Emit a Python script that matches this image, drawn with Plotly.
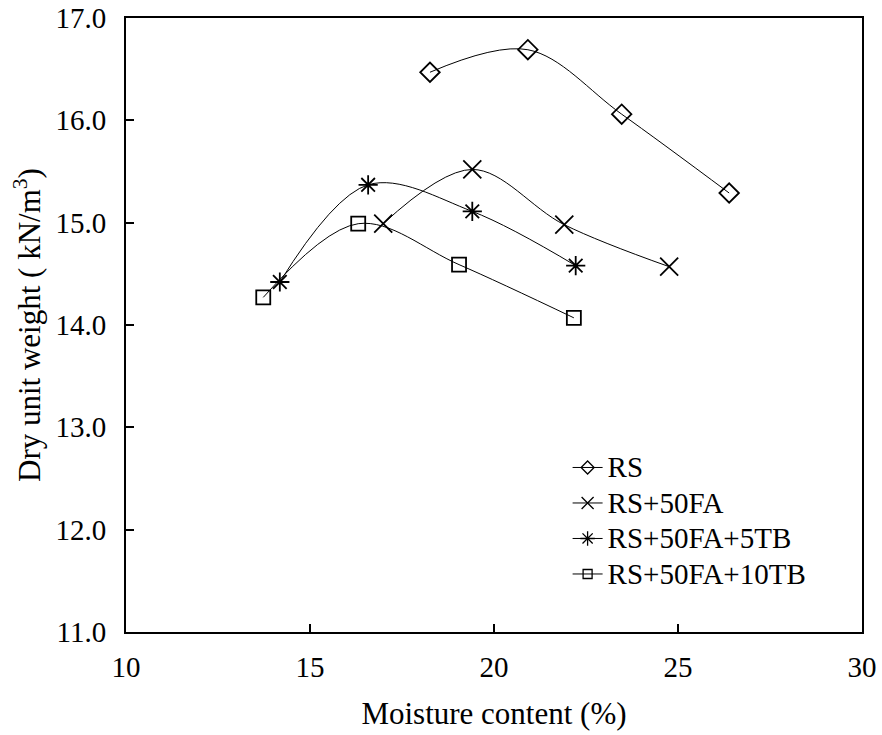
import plotly.graph_objects as go

# Compaction curves: moisture content (%) vs dry unit weight (kN/m3)
series_names = ["RS", "RS+50FA", "RS+50FA+5TB", "RS+50FA+10TB"]

moisture_rs = [18.26, 20.92, 23.47, 26.39]
weight_rs = [16.47, 16.69, 16.06, 15.29]

moisture_fa = [16.99, 19.41, 21.91, 24.76]
weight_fa = [14.99, 15.52, 14.98, 14.57]

moisture_5tb = [14.18, 16.58, 19.41, 22.22]
weight_5tb = [14.42, 15.37, 15.11, 14.58]

moisture_10tb = [13.73, 16.31, 19.05, 22.17]
weight_10tb = [14.27, 14.99, 14.59, 14.07]

x_ticks = [10, 15, 20, 25, 30]
y_ticks = [11.0, 12.0, 13.0, 14.0, 15.0, 16.0, 17.0]

xs = [moisture_rs, moisture_fa, moisture_5tb, moisture_10tb]
ys = [weight_rs, weight_fa, weight_5tb, weight_10tb]
symbols = ["diamond-open", "x-thin-open", "asterisk-open", "square-open"]
plot_sizes = [15, 18, 16, 14]
legend_sizes = [10, 12, 12, 9]

FONT = "Liberation Serif, Times New Roman, serif"

fig = go.Figure()

for name, x, y, sym, size in zip(series_names, xs, ys, symbols, plot_sizes):
    fig.add_trace(go.Scatter(
        x=x, y=y, name=name, mode="lines+markers",
        line=dict(color="black", width=1, shape="spline", smoothing=1.0),
        marker=dict(symbol=sym, size=size, color="black",
                    line=dict(color="black", width=1.8)),
        showlegend=False,
    ))

# legend entries with smaller marker glyphs; row spacing follows the
# legend font size while the label itself is set a little larger
for name, sym, size in zip(series_names, symbols, legend_sizes):
    fig.add_trace(go.Scatter(
        x=[None], y=[None], name=f'<span style="font-size:29px">{name}</span>',
        mode="lines+markers",
        line=dict(color="black", width=1),
        marker=dict(symbol=sym, size=size, color="black",
                    line=dict(color="black", width=1.3)),
        showlegend=True,
    ))

fig.update_layout(
    width=882, height=735,
    margin=dict(l=126, r=20, t=18, b=103, autoexpand=False),
    paper_bgcolor="white", plot_bgcolor="white",
    font=dict(family=FONT, size=29, color="black"),
    showlegend=True,
    legend=dict(
        x=0.600, y=0.305, xanchor="left", yanchor="top",
        bgcolor="rgba(0,0,0,0)", borderwidth=0,
        font=dict(family=FONT, size=25, color="black"),
        tracegroupgap=0, itemwidth=30,
    ),
)

fig.update_xaxes(
    range=[10, 30], tickvals=x_ticks, ticktext=[str(v) for v in x_ticks],
    ticks="inside", ticklen=8, tickwidth=1.5, tickcolor="black",
    ticklabelstandoff=8, tickfont=dict(family=FONT, size=29),
    showline=True, linecolor="black", linewidth=2, mirror=True,
    showgrid=False, zeroline=False, automargin=False,
    title=dict(text="Moisture content (%)", standoff=21,
               font=dict(family=FONT, size=31)),
)
fig.update_yaxes(
    range=[11.0, 17.0], tickvals=y_ticks, ticktext=[f"{v:.1f}" for v in y_ticks],
    ticks="inside", ticklen=8, tickwidth=1.5, tickcolor="black",
    ticklabelstandoff=12, tickfont=dict(family=FONT, size=29),
    showline=True, linecolor="black", linewidth=2, mirror=True,
    showgrid=False, zeroline=False, automargin=False,
    title=dict(text="Dry unit weight ( kN/m<sup>3</sup>)", standoff=6,
               font=dict(family=FONT, size=31)),
)

fig.write_html("out.html")
